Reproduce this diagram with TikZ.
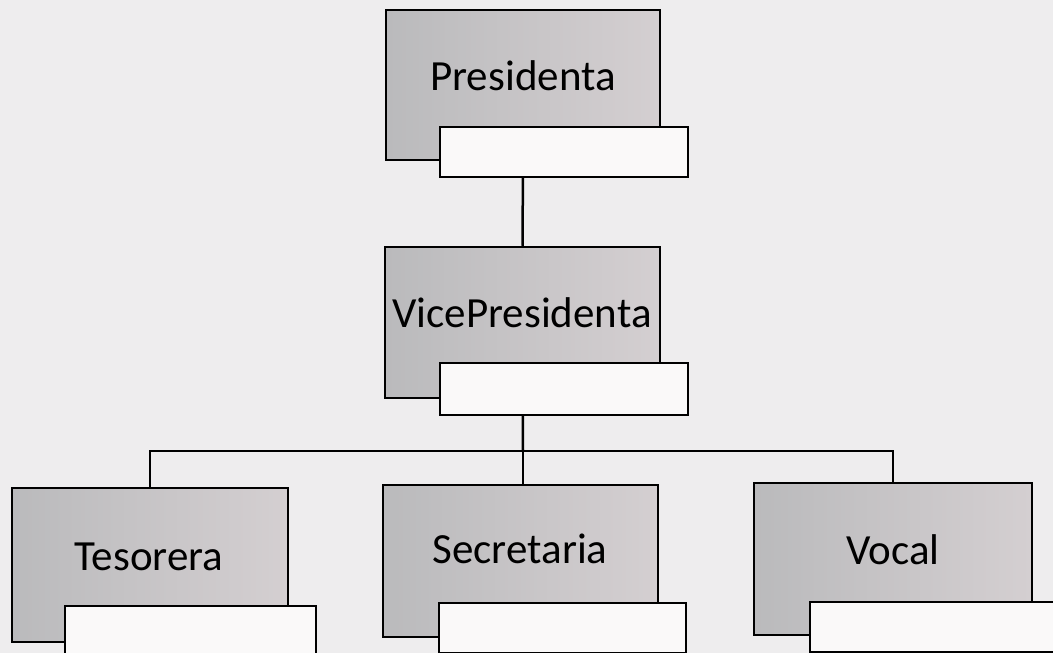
\documentclass[tikz,border=0pt]{standalone}
\usepackage{fontspec}
\setmainfont{Carlito}
\pgfdeclarelayer{paper}
\pgfdeclarelayer{lines}
\pgfsetlayers{paper,lines,main}
\definecolor{paperc}{RGB}{238,237,238}
\definecolor{boxl}{RGB}{186,186,188}
\definecolor{boxr}{RGB}{212,207,209}
\definecolor{cardc}{RGB}{250,249,249}
\tikzset{
  rolebox/.style={draw=black, line width=2.5pt, left color=boxl, right color=boxr, inner sep=0pt},
  namebox/.style={draw=black, line width=2.5pt, fill=cardc, inner sep=0pt},
  roletext/.style={anchor=base, inner sep=0pt, font=\fontsize{43}{50}\selectfont, text=black},
  link/.style={draw=black, line width=2.5pt}
}
\begin{document}
\begin{tikzpicture}[x=1pt,y=-1pt]
\begin{pgfonlayer}{paper}
\fill[paperc] (0,0) rectangle (1053,653);
\end{pgfonlayer}
\useasboundingbox (0,0) rectangle (1053,653);
% main boxes
\node[rolebox, minimum width=274pt, minimum height=150pt] (P) at (523,85) {};
\node[rolebox, minimum width=275pt, minimum height=151pt] (V) at (522.5,322.5) {};
\node[rolebox, minimum width=276pt, minimum height=154pt] (T) at (150,565) {};
\node[rolebox, minimum width=275pt, minimum height=152pt] (S) at (520.5,561) {};
\node[rolebox, minimum width=278pt, minimum height=152pt] (Vo) at (893,559) {};
% labels
\node[roletext] (Pt) at (523,90) {Presidenta};
\node[roletext] (Vt) at (522,327) {VicePresidenta};
\node[roletext] (Tt) at (149,570) {Tesorera};
\node[roletext] (St) at (520,563) {Secretaria};
\node[roletext] (Vot) at (893,564) {Vocal};
% white name boxes
\node[namebox, minimum width=248pt, minimum height=50pt] (Pw) at (564,152) {};
\node[namebox, minimum width=248pt, minimum height=52pt] (Vw) at (564,389) {};
\node[namebox, minimum width=251pt, minimum height=50pt] (Tw) at (190.5,631) {};
\node[namebox, minimum width=247pt, minimum height=50pt] (Sw) at (562.5,628) {};
\node[namebox, minimum width=250pt, minimum height=50pt] (Vow) at (935,627) {};
% connectors
\coordinate (J) at (523,451);
\begin{pgfonlayer}{lines}
\draw[link] (P) -- (V);
\draw[link] (V) -- (J);
\draw[link] (J) -| (T);
\draw[link] (J) -- (S.north -| J);
\draw[link] (J) -| (Vo);
\end{pgfonlayer}
\end{tikzpicture}
\end{document}
